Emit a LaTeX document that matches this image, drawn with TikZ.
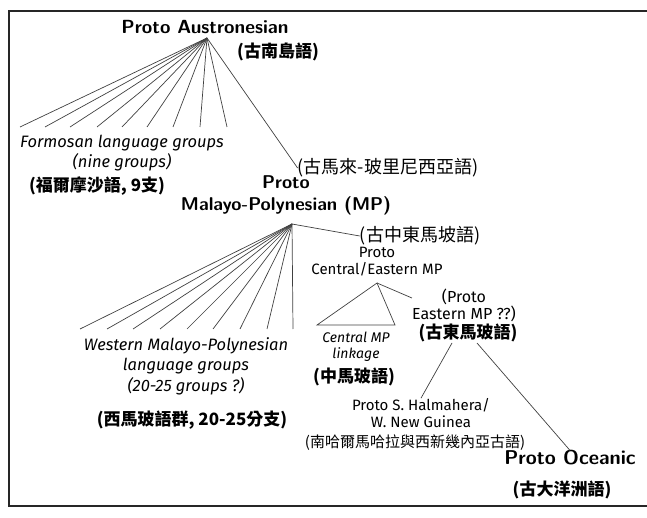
\documentclass[tikz,border=0pt]{standalone}
\usepackage{fontspec}
\newfontfamily\cjk{Noto Sans CJK TC}
\newfontfamily\osans{Fira Sans}
\begin{document}
\begin{tikzpicture}[x=1pt,y=-1pt,
  lbl/.style={inner sep=0pt,align=center,text=black},
  bigb/.style={lbl,font=\sffamily\bfseries\fontsize{19}{21}\selectfont},
  mpb/.style={lbl,font=\sffamily\bfseries\fontsize{18.5}{22}\selectfont},
  ocb/.style={lbl,font=\sffamily\bfseries\fontsize{20}{22}\selectfont},
  reg/.style={lbl,font=\osans\fontsize{15}{17}\selectfont},
  regl/.style={lbl,font=\osans\fontsize{16}{17}\selectfont},
  ital/.style={lbl,font=\osans\itshape\fontsize{16.5}{20.5}\selectfont},
  itals/.style={lbl,font=\osans\itshape\fontsize{14}{16}\selectfont},
  zhb/.style={lbl,font=\cjk\bfseries\fontsize{17}{19}\selectfont},
  zh/.style={lbl,font=\cjk\fontsize{18}{20}\selectfont},
  zhs/.style={lbl,font=\cjk\fontsize{15}{17}\selectfont},
  br/.style={line width=0.7pt,draw=black!75},
  frame/.style={line width=1.8pt,draw=black!85}]
\useasboundingbox (0,0) rectangle (647,518);
% frame
\draw[frame] (647,11) -- (9,11) -- (9,506) -- (647,506);

% Proto Austronesian
\node[bigb] (pa) at (205,27) {Proto Austronesian};
\node[zhb] (pazh) at (278,52) {(古南島語)};
\coordinate (paA) at (207,38);
\foreach \i/\x in {1/20,2/45,3/70,4/97,5/122,6/147,7/173,8/200,9/227}{
  \coordinate (f\i) at (\x,127);
  \draw[br] (paA) -- (f\i);
}
\node[ital] (form) at (122,153) {Formosan language groups\\(nine groups)};
\node[zhb] (formzh) at (97,186) {(福爾摩沙語, 9支)};

% Malayo-Polynesian
\node[zh] (mpzh) at (388,168) {(古馬來-玻里尼西亞語)};
\draw[br] (paA) -- (mpzh.west);
\node[mpb] (mp) at (286,195) {Proto\\Malayo-Polynesian (MP)};
\coordinate (mpA) at (292,224);
\foreach \i/\x in {1/80,2/107,3/133,4/160,5/187,6/213,7/240,8/267,9/293}{
  \coordinate (w\i) at (\x,329);
  \draw[br] (mpA) -- (w\i);
}
\node[ital] (wmp) at (186,366) {Western Malayo-Polynesian\\language groups\\(20-25 groups ?)};
\node[zhb] (wmpzh) at (192,420) {(西馬玻語群, 20-25分支)};

% Central/Eastern
\node[zh] (cezh) at (420,236) {(古中東馬坡語)};
\draw[br] (mpA) -- (cezh.west);
\node[reg] (ce) at (377,262) {Proto\\Central/Eastern MP};
\coordinate (ceA) at (377,283);
\coordinate (tl) at (317,325);
\coordinate (tr) at (395,325);
\draw[br] (ceA) -- (tl) -- (tr) -- cycle;
\node[itals] (cmp) at (356,347) {Central MP\\linkage};
\node[zhb] (cmpzh) at (354,377) {(中馬玻語)};

\node[regl] (emp) at (464,305) {(Proto\\Eastern MP ??)};
\draw[br] (ceA) -- (emp.west |- 0,298);
\node[zhb] (empzh) at (468,333) {(古東馬玻語)};

\coordinate (e1) at (452,343);
\coordinate (e2) at (477,343);
\node[reg] (hal) at (421,413) {Proto S. Halmahera/\\W. New Guinea};
\node[zhs] (halzh) at (415,443) {(南哈爾馬哈拉與西新幾內亞古語)};
\draw[br] (e1) -- (hal.north);
\node[ocb] (oc) at (570,458) {Proto Oceanic};
\node[zhb] (oczh) at (562,490) {(古大洋洲語)};
\draw[br] (e2) -- (oc.north);
\end{tikzpicture}
\end{document}
